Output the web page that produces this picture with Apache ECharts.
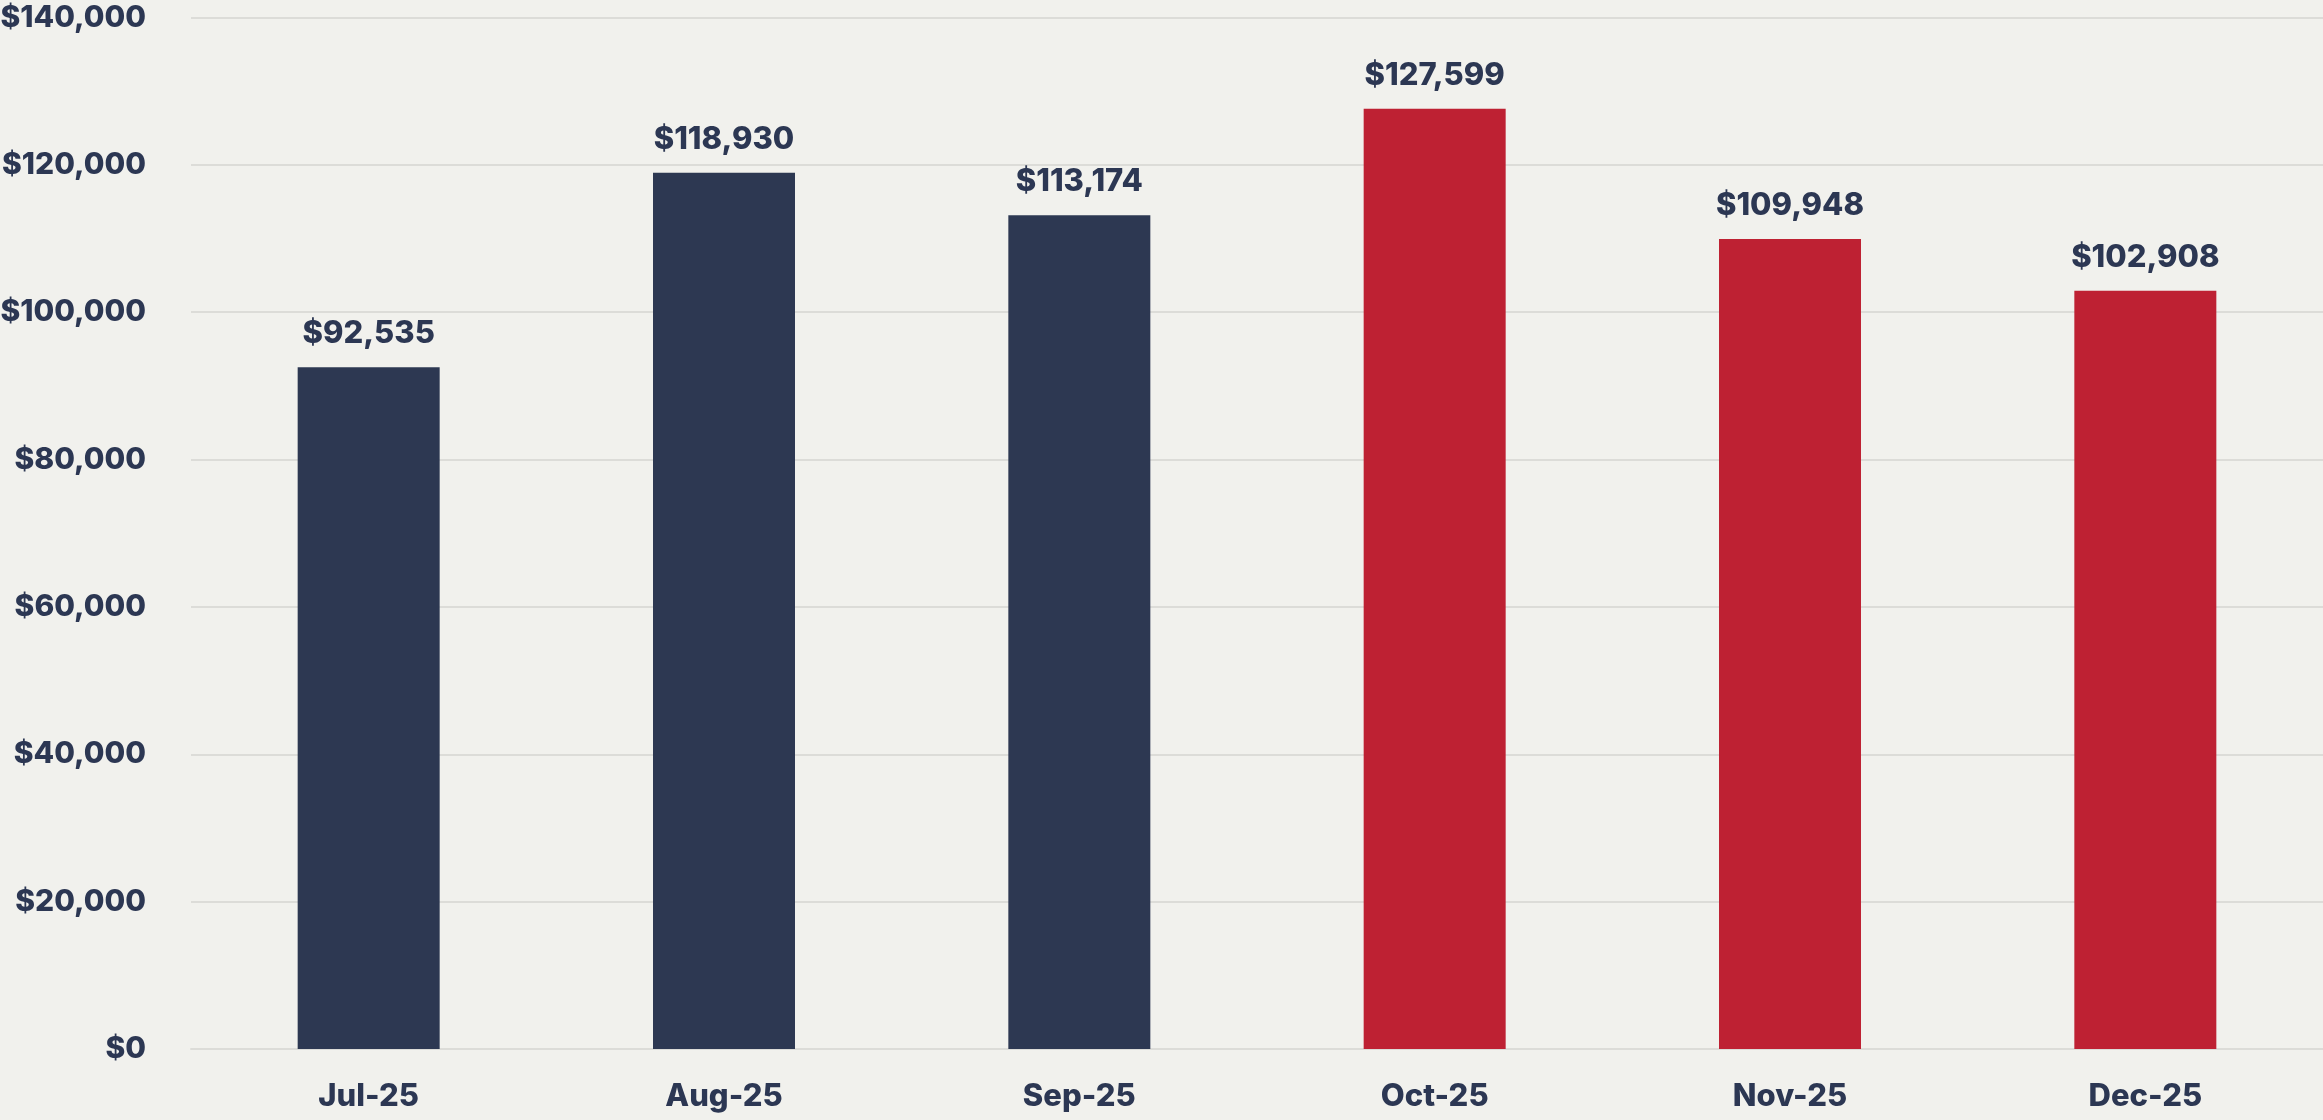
<!DOCTYPE html>
<html>
<head>
<meta charset="utf-8">
<script src="https://cdn.jsdelivr.net/npm/echarts@6/dist/echarts.min.js"></script>
<style>
	html,body{margin:0;padding:0;background:#f1f1ed;}
	#chart{width:2323px;height:1120px;}
</style>
</head>
<body>
<div id="chart"></div>
<script>
var months = ['Jul-25','Aug-25','Sep-25','Oct-25','Nov-25','Dec-25'];
var revenue = [92535, 118930, 113174, 127599, 109948, 102908];
var yTicks = [0, 20000, 40000, 60000, 80000, 100000, 120000, 140000];

function money(v){
	return '$' + Number(v).toLocaleString('en-US');
}

var myChart = echarts.init(document.getElementById('chart'));
var textColor = '#2c3753';
var fontFam = 'Inter, "Open Sans", sans-serif';

var option = {
	backgroundColor: '#f1f1ed',
	animation: false,
	grid: {left: 191, right: 0, top: 17.5, bottom: 71, containLabel: false, outerBoundsMode: 'none'},
	xAxis: {
		type: 'category',
		data: months,
		axisTick: {show: false},
		axisLine: {show: true, lineStyle: {color: '#dcdcd8', width: 2}},
		axisLabel: {
			color: textColor,
			fontFamily: fontFam,
			fontWeight: 800,
			fontSize: 31,
			margin: 32
		}
	},
	yAxis: {
		type: 'value',
		min: yTicks[0],
		max: yTicks[yTicks.length - 1],
		interval: yTicks[1] - yTicks[0],
		axisLine: {show: false},
		axisTick: {show: false},
		splitLine: {lineStyle: {color: '#dcdcd8', width: 2}},
		axisLabel: {
			color: textColor,
			fontFamily: fontFam,
			fontWeight: 800,
			fontSize: 30,
			margin: 45,
			formatter: money
		}
	},
	series: [
		{
			type: 'bar',
			data: revenue,
			barWidth: 142,
			itemStyle: {
				color: function(p){
					return p.dataIndex < 3 ? '#2d3852' : '#be2133';
				}
			},
			label: {
				show: true,
				position: 'top',
				distance: 18,
				color: textColor,
				fontFamily: fontFam,
				fontWeight: 800,
				fontSize: 31,
				formatter: function(p){ return money(p.value); }
			}
		}
	]
};
myChart.setOption(option);
</script>
</body>
</html>
